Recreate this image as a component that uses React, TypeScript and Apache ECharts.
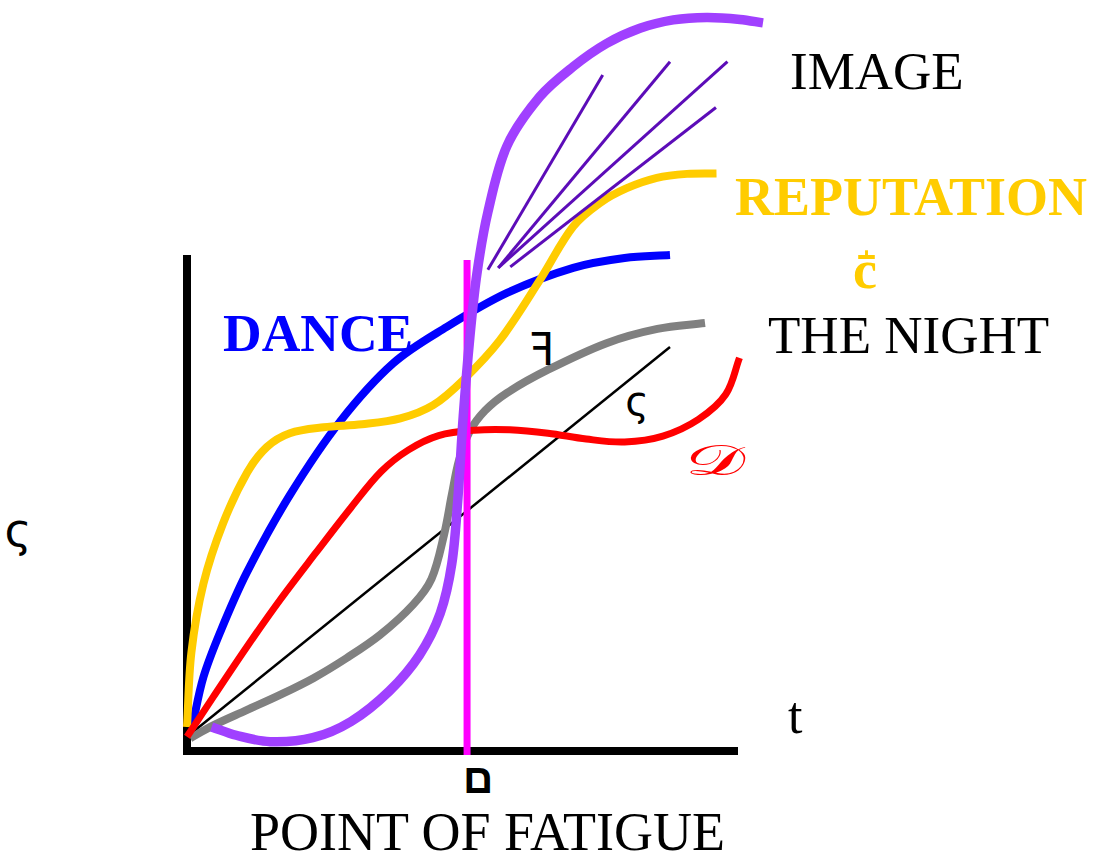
import React, { useEffect, useRef } from "react";
import * as echarts from "echarts";

type Pt = [number, number];

// Curves in chart units: t along the horizontal axis (axis drawn 0..10), level on the vertical axis (0..10).
const reputationCurve: Pt[] = [
  [0.0, 0.49], [0.08, 2.0], [0.3, 3.4], [0.66, 4.63], [1.1, 5.66], [1.46, 6.18],
  [1.88, 6.46], [2.5, 6.58], [3.2, 6.64], [3.9, 6.76], [4.5, 7.03], [5.05, 7.54],
  [5.72, 8.35], [6.45, 9.57], [7.06, 10.66], [7.55, 11.14], [8.04, 11.44], [8.59, 11.65],
  [9.14, 11.73], [9.68, 11.74],
];

const danceCurve: Pt[] = [
  [0.09, 0.47], [0.3, 1.5], [0.62, 2.45], [1.09, 3.62], [1.88, 5.2], [2.8, 6.7],
  [3.77, 7.88], [4.75, 8.62], [5.85, 9.31], [7.06, 9.82], [8.0, 10.02], [8.83, 10.08],
];

const scriptDCurve: Pt[] = [
  [0.0, 0.29], [0.48, 1.1], [1.09, 2.11], [1.7, 3.07], [2.35, 4.02], [3.0, 4.95],
  [3.55, 5.68], [4.05, 6.12], [4.6, 6.41], [5.25, 6.52], [5.9, 6.53], [6.6, 6.46],
  [7.3, 6.34], [8.0, 6.28], [8.7, 6.4], [9.35, 6.74], [9.85, 7.25], [10.1, 7.99],
];

const nightCurve: Pt[] = [
  [0.06, 0.26], [0.48, 0.52], [1.09, 0.83], [1.7, 1.14], [2.31, 1.48], [2.92, 1.89],
  [3.53, 2.36], [4.13, 2.97], [4.47, 3.5], [4.7, 4.4], [4.84, 5.2], [4.97, 5.9],
  [5.17, 6.5], [5.45, 6.92], [5.85, 7.28], [6.6, 7.75], [7.67, 8.29], [8.6, 8.58],
  [9.47, 8.7],
];

const imageCurve: Pt[] = [
  [0.45, 0.49], [0.9, 0.32], [1.52, 0.19], [2.3, 0.27], [3.0, 0.6], [3.7, 1.22],
  [4.25, 1.95], [4.63, 2.8], [4.84, 3.8], [4.95, 5.1], [5.05, 6.8], [5.17, 8.4],
  [5.3, 9.7], [5.5, 10.95], [5.85, 12.3], [6.45, 13.3], [7.06, 13.91], [7.67, 14.38],
  [8.28, 14.69], [8.89, 14.86], [9.5, 14.91], [10.11, 14.87], [10.53, 14.8],
];

const steadyLine: Pt[] = [[0.09, 0.37], [8.83, 8.21]];

const imageRays: Pt[][] = [
  [[5.5, 9.78], [7.6, 13.74]],
  [[5.69, 9.82], [8.83, 14.01]],
  [[5.69, 9.82], [9.88, 14.01]],
  [[5.91, 9.84], [9.67, 13.08]],
];

const fatigueMarker: Pt[] = [[5.12, -0.08], [5.12, 9.98]];

const xAxisLine: Pt[] = [[0, 0], [10, 0]];
const yAxisLine: Pt[] = [[0, 0], [0, 10]];

const serif = '"Liberation Serif", "Times New Roman", serif';
const sans = '"DejaVu Sans", "Noto Sans", sans-serif';

// Builds a cubic Bezier path through pixel points; handle lengths follow each segment's length.
function smoothPath(p: number[][], s = 0.34): string {
  const n = p.length;
  const unit = (a: number[], b: number[]) => {
    const dx = b[0] - a[0];
    const dy = b[1] - a[1];
    const l = Math.hypot(dx, dy) || 1;
    return [dx / l, dy / l];
  };
  let d = `M${p[0][0].toFixed(2)},${p[0][1].toFixed(2)}`;
  for (let i = 0; i < n - 1; i++) {
    const p0 = p[i - 1] || p[i];
    const p1 = p[i];
    const p2 = p[i + 1];
    const p3 = p[i + 2] || p[i + 1];
    const seg = Math.hypot(p2[0] - p1[0], p2[1] - p1[1]);
    const t1 = unit(p0, p2);
    const t2 = unit(p1, p3);
    const c1 = [p1[0] + t1[0] * seg * s, p1[1] + t1[1] * seg * s];
    const c2 = [p2[0] - t2[0] * seg * s, p2[1] - t2[1] * seg * s];
    d += ` C${c1[0].toFixed(2)},${c1[1].toFixed(2)} ${c2[0].toFixed(2)},${c2[1].toFixed(2)} ${p2[0].toFixed(2)},${p2[1].toFixed(2)}`;
  }
  return d;
}

function curveSeries(name: string, points: Pt[], color: string, width: number, z: number) {
  return {
    type: "custom",
    name,
    coordinateSystem: "cartesian2d",
    clip: false,
    silent: true,
    z,
    data: [points[0]],
    renderItem: (_params: unknown, api: any) => {
      const px = points.map((pt) => api.coord(pt));
      return {
        type: "path",
        shape: { pathData: smoothPath(px) },
        style: { fill: "none", stroke: color, lineWidth: width, lineCap: "butt", lineJoin: "round" },
      };
    },
  };
}

function straightSeries(name: string, data: Pt[], color: string, width: number, z: number, cap = "butt") {
  return {
    type: "line",
    name,
    data,
    symbol: "none",
    clip: false,
    silent: true,
    z,
    lineStyle: { color, width, cap },
  };
}

function label(
  text: string,
  x: number,
  y: number,
  size: number,
  color: string,
  family: string,
  weight: string = "normal",
  align: string = "left",
  extra: Record<string, unknown> = {}
) {
  return {
    type: "text",
    x,
    y,
    z: 100,
    ...extra,
    style: {
      text,
      fill: color,
      fontSize: size,
      fontFamily: family,
      fontWeight: weight,
      textAlign: align,
      textVerticalAlign: "middle",
      align,
      verticalAlign: "middle",
    },
  };
}

export default function App() {
  const ref = useRef<HTMLDivElement>(null);

  useEffect(() => {
    if (!ref.current) return;
    const chart = echarts.init(ref.current, undefined, { renderer: "svg" });

    const hiddenAxis = {
      type: "value",
      axisLine: { show: false },
      axisTick: { show: false },
      axisLabel: { show: false },
      splitLine: { show: false },
    };

    chart.setOption({
      animation: false,
      backgroundColor: "#fff",
      // 54.7 px per t unit, 49.2 px per level unit; origin at (187, 751)
      grid: { left: 187, top: 259, width: 601.7, height: 492, containLabel: false },
      xAxis: { ...hiddenAxis, min: 0, max: 11 },
      yAxis: { ...hiddenAxis, min: 0, max: 10 },
      series: [
        straightSeries("t axis", xAxisLine, "#000000", 8, 1, "square"),
        straightSeries("level axis", yAxisLine, "#000000", 8, 1, "square"),
        curveSeries("DANCE", danceCurve, "#0000ff", 8, 2),
        curveSeries("REPUTATION", reputationCurve, "#ffcc00", 8, 3),
        straightSeries("steady", steadyLine, "#000000", 2.5, 4),
        curveSeries("THE NIGHT", nightCurve, "#808080", 8, 5),
        curveSeries("𝒟", scriptDCurve, "#ff0000", 7, 6),
        straightSeries("POINT OF FATIGUE", fatigueMarker, "#ff00ff", 7, 7),
        curveSeries("IMAGE", imageCurve, "#a040ff", 9.5, 8),
        ...imageRays.map((r, i) => straightSeries("ray" + i, r, "#5c0cb8", 3, 9)),
      ],
      graphic: [
        label("IMAGE", 790, 70.5, 53, "#000", serif),
        label("REPUTATION", 735, 197, 54, "#ffcc00", serif, "bold"),
        label("c\u030D\u0304", 853, 269.5, 54, "#ffcc00", serif, "bold"),
        label("THE NIGHT", 768, 335, 53, "#000", serif),
        label("DANCE", 223, 333, 53.5, "#0000ff", serif, "bold"),
        label("ꟻ", 542, 349, 44, "#000", sans, "normal", "center"),
        label("ς", 637, 401, 40, "#000", sans, "normal", "center"),
        label("ς", 18, 530, 46, "#000", sans, "normal", "center"),
        label("𝒟", 715, 460, 42, "#ff0000", '"DejaVu Serif", "DejaVu Sans", serif', "normal", "center", {
          scaleX: 1.8,
        }),
        label("t", 788, 715.5, 52, "#000", serif),
        label("ם", 478, 778, 42, "#000", '"Liberation Sans", "DejaVu Sans", sans-serif', "bold", "center"),
        label("POINT OF FATIGUE", 250, 832, 54, "#000", serif),
      ],
    });

    return () => chart.dispose();
  }, []);

  return (
    <div
      ref={ref}
      style={{ position: "fixed", left: 0, top: 0, width: 1093, height: 862, background: "#fff" }}
    />
  );
}
